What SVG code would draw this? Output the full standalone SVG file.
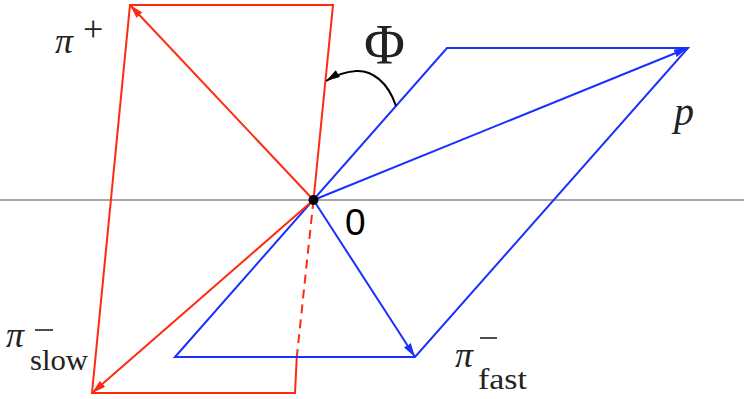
<svg xmlns="http://www.w3.org/2000/svg" width="744" height="399" viewBox="0 0 744 399">
<defs>
<style>
.red{stroke:#ff2a12;stroke-width:2;fill:none}
.blue{stroke:#1a30ff;stroke-width:2;fill:none}
</style>
<marker id="ar" viewBox="0 0 14 8" refX="14" refY="4" markerWidth="14" markerHeight="8" markerUnits="userSpaceOnUse" orient="auto"><path d="M0,0 L14,4 L0,8 Z" fill="#ff2a12"/></marker>
<marker id="ab" viewBox="0 0 14 8" refX="14" refY="4" markerWidth="14" markerHeight="8" markerUnits="userSpaceOnUse" orient="auto"><path d="M0,0 L14,4 L0,8 Z" fill="#1a30ff"/></marker>
<marker id="ak" viewBox="0 0 14 8" refX="14" refY="4" markerWidth="14" markerHeight="8" markerUnits="userSpaceOnUse" orient="auto"><path d="M0,0 L14,4 L0,8 Z" fill="#000"/></marker>
</defs>
<rect width="744" height="399" fill="#fff"/>
<line x1="0" y1="200" x2="744" y2="200" stroke="#8a8a8a" stroke-width="1.5"/>
<g id="connectors">
<path class="red" d="M313.5,200 L333,5 L130,5 L92,393 L295,393 L296.8,357"/>
<line class="red" x1="313.5" y1="200" x2="296.8" y2="357" stroke-dasharray="9,6"/>
<path class="blue" d="M175,357 L447,48 L688,48 L415,357 Z"/>
<line class="red" x1="313.5" y1="200" x2="130" y2="5" marker-end="url(#ar)"/>
<line class="red" x1="313.5" y1="200" x2="92" y2="393" marker-end="url(#ar)"/>
<line class="blue" x1="313.5" y1="200" x2="688" y2="48" marker-end="url(#ab)"/>
<line class="blue" x1="313.5" y1="200" x2="415" y2="357" marker-end="url(#ab)"/>
<path d="M396,106 C388,82 372,70 356,71 C344,72 334,76 326,81" fill="none" stroke="#000" stroke-width="2" marker-end="url(#ak)"/>
</g>
<g id="origin"><circle cx="313.5" cy="200" r="5" fill="#000"/>
<text x="345" y="235" font-family="Liberation Sans, Arial, sans-serif" font-size="37" fill="#000">0</text></g>
<g id="phi"><text x="364" y="64" font-family="Liberation Serif, DejaVu Serif, serif" font-size="56" fill="#222">Φ</text></g>
<g id="piplus"><text x="55" y="53" font-family="Liberation Serif, DejaVu Serif, serif" font-size="36" font-style="italic" fill="#222">π</text><text x="83" y="41" font-family="Liberation Serif, DejaVu Serif, serif" font-size="36" fill="#222">+</text></g>
<g id="pislow"><text x="6" y="347" font-family="Liberation Serif, DejaVu Serif, serif" font-size="36" font-style="italic" fill="#222">π</text><text x="30" y="370" font-family="Liberation Serif, DejaVu Serif, serif" font-size="30" textLength="58" lengthAdjust="spacingAndGlyphs" fill="#222">slow</text><line x1="35" y1="330" x2="53" y2="330" stroke="#222" stroke-width="1.6"/></g>
<g id="pifast"><text x="455" y="367" font-family="Liberation Serif, DejaVu Serif, serif" font-size="36" font-style="italic" fill="#222">π</text><text x="478" y="389" font-family="Liberation Serif, DejaVu Serif, serif" font-size="30" textLength="49" lengthAdjust="spacingAndGlyphs" fill="#222">fast</text><line x1="480" y1="338" x2="497" y2="338" stroke="#222" stroke-width="1.6"/></g>
<g id="p"><text x="674" y="125" font-family="Liberation Serif, DejaVu Serif, serif" font-size="40" font-style="italic" fill="#222">p</text></g>
</svg>
